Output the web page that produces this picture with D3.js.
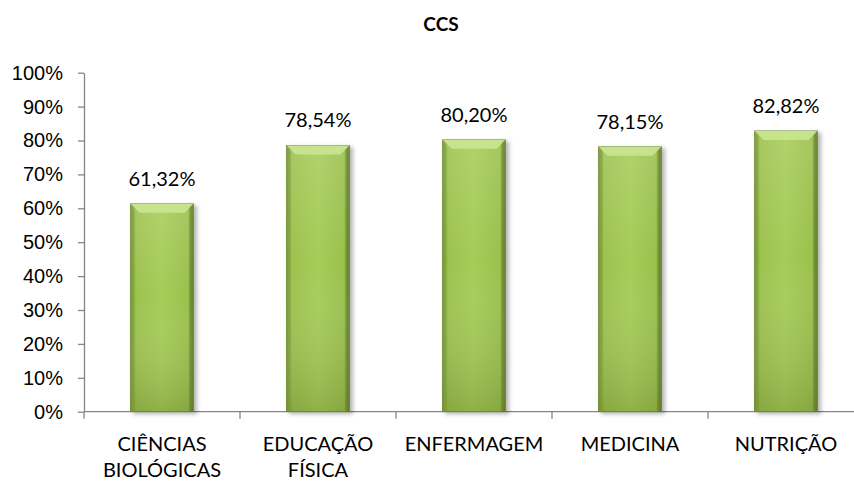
<!DOCTYPE html>
<html>
<head>
<meta charset="utf-8">
<script src="https://cdn.jsdelivr.net/npm/d3@7"></script>
<style>
  body { margin: 0; background: #fff; }
  svg { font-family: Lato, "Open Sans", sans-serif; }
</style>
</head>
<body>
<svg id="chart" width="854" height="482"></svg>
<script>
const categories = [["CIÊNCIAS", "BIOLÓGICAS"], ["EDUCAÇÃO", "FÍSICA"], ["ENFERMAGEM"], ["MEDICINA"], ["NUTRIÇÃO"]];
const values = [61.32, 78.54, 80.20, 78.15, 82.82];
const valueLabels = ["61,32%", "78,54%", "80,20%", "78,15%", "82,82%"];
const yTicks = [0, 10, 20, 30, 40, 50, 60, 70, 80, 90, 100];

// plot area runs a little past the right edge, as in the original
const margin = { top: 72.7, right: -10, bottom: 70.3, left: 84 };
const width = 854 - margin.left - margin.right;
const height = 482 - margin.top - margin.bottom;

const svg = d3.select("#chart");
const defs = svg.append("defs");

const grad = defs.append("linearGradient").attr("id", "barGrad")
    .attr("x1", "0").attr("x2", "1").attr("y1", "0").attr("y2", "0");
grad.append("stop").attr("offset", "0%").attr("stop-color", "#7c9b3a");
grad.append("stop").attr("offset", "9%").attr("stop-color", "#9dc24f");
grad.append("stop").attr("offset", "50%").attr("stop-color", "#a6cc58");
grad.append("stop").attr("offset", "91%").attr("stop-color", "#9ac04d");
grad.append("stop").attr("offset", "100%").attr("stop-color", "#6f8c33");

const vgrad = defs.append("linearGradient").attr("id", "barShade")
    .attr("x1", "0").attr("x2", "0").attr("y1", "0").attr("y2", "1");
vgrad.append("stop").attr("offset", "0%").attr("stop-color", "#fff").attr("stop-opacity", 0.12);
vgrad.append("stop").attr("offset", "45%").attr("stop-color", "#fff").attr("stop-opacity", 0);
vgrad.append("stop").attr("offset", "100%").attr("stop-color", "#3d5010").attr("stop-opacity", 0.22);

const shadow = defs.append("filter").attr("id", "shadow")
    .attr("x", "-20%").attr("y", "-10%").attr("width", "150%").attr("height", "130%");
shadow.append("feDropShadow").attr("dx", 3).attr("dy", 2).attr("stdDeviation", 2)
    .attr("flood-color", "#000").attr("flood-opacity", 0.3);

const ids = categories.map((c, i) => i);
const x = d3.scaleBand().domain(ids).range([0, width]).paddingInner(0.596).paddingOuter(0.298);
const xb = d3.scaleBand().domain(ids).range([0, width]);
const y = d3.scaleLinear().domain([0, 100]).range([height, 0]);

const g = svg.append("g").attr("transform", `translate(${margin.left},${margin.top})`);

// title
svg.append("text")
    .attr("x", 441).attr("y", 31)
    .attr("text-anchor", "middle")
    .attr("font-weight", "bold")
    .attr("font-size", 19)
    .text("CCS");

// y axis
const yAxis = g.append("g")
    .call(d3.axisLeft(y).tickValues(yTicks).tickFormat(d => d + "%").tickSize(6).tickSizeOuter(0));
yAxis.select(".domain").attr("stroke", "#868686").attr("stroke-width", 1.3);
yAxis.selectAll(".tick line").attr("stroke", "#868686").attr("stroke-width", 1.3);
yAxis.selectAll(".tick text").attr("font-size", 20).attr("fill", "#000").attr("x", -21);

// x axis line and ticks at band boundaries
g.append("line")
    .attr("x1", 0).attr("x2", width).attr("y1", height).attr("y2", height)
    .attr("stroke", "#868686").attr("stroke-width", 1.3);
g.selectAll(".xtick")
    .data(ids)
    .join("line")
    .attr("class", "xtick")
    .attr("x1", d => xb(d)).attr("x2", d => xb(d))
    .attr("y1", height).attr("y2", height + 7)
    .attr("stroke", "#868686").attr("stroke-width", 1.3);

// bars
const bars = g.selectAll(".bar")
    .data(ids)
    .join("g")
    .attr("class", "bar");

bars.append("rect")
    .attr("x", d => x(d))
    .attr("y", d => y(values[d]))
    .attr("width", x.bandwidth())
    .attr("height", d => height - y(values[d]))
    .attr("fill", "url(#barGrad)")
    .attr("stroke", "#6f8b33")
    .attr("stroke-width", 0.8)
    .attr("filter", "url(#shadow)");

bars.append("rect")
    .attr("x", d => x(d))
    .attr("y", d => y(values[d]))
    .attr("width", x.bandwidth())
    .attr("height", d => height - y(values[d]))
    .attr("fill", "url(#barShade)");

// bevel on top
const bev = 9;
bars.append("path")
    .attr("d", d => {
        const x0 = x(d), x1 = x(d) + x.bandwidth(), y0 = y(values[d]);
        return `M${x0},${y0} L${x1},${y0} L${x1 - bev},${y0 + bev} L${x0 + bev},${y0 + bev} Z`;
    })
    .attr("fill", "#cbe894")
    .attr("opacity", 0.85);
bars.append("path")
    .attr("d", d => {
        const x0 = x(d), y0 = y(values[d]), y1 = height;
        return `M${x0},${y0} L${x0 + 4},${y0 + 4} L${x0 + 4},${y1} L${x0},${y1} Z`;
    })
    .attr("fill", "#7c9a3a")
    .attr("opacity", 0.5);
bars.append("path")
    .attr("d", d => {
        const x1 = x(d) + x.bandwidth(), y0 = y(values[d]), y1 = height;
        return `M${x1},${y0} L${x1 - 4},${y0 + 4} L${x1 - 4},${y1} L${x1},${y1} Z`;
    })
    .attr("fill", "#5f7a28")
    .attr("opacity", 0.5);

// value labels
g.selectAll(".vlabel")
    .data(ids)
    .join("text")
    .attr("class", "vlabel")
    .attr("x", d => x(d) + x.bandwidth() / 2)
    .attr("y", d => y(values[d]) - 18)
    .attr("text-anchor", "middle")
    .attr("font-size", 20)
    .text(d => valueLabels[d]);

// category labels
const cl = g.selectAll(".clabel")
    .data(ids)
    .join("text")
    .attr("class", "clabel")
    .attr("x", d => x(d) + x.bandwidth() / 2)
    .attr("y", height + 39)
    .attr("text-anchor", "middle")
    .attr("font-size", 20);
cl.selectAll("tspan")
    .data(d => categories[d].map(t => ({ t, d })))
    .join("tspan")
    .attr("x", p => x(p.d) + x.bandwidth() / 2)
    .attr("dy", (p, i) => i === 0 ? 0 : 26)
    .text(p => p.t);
</script>
</body>
</html>
